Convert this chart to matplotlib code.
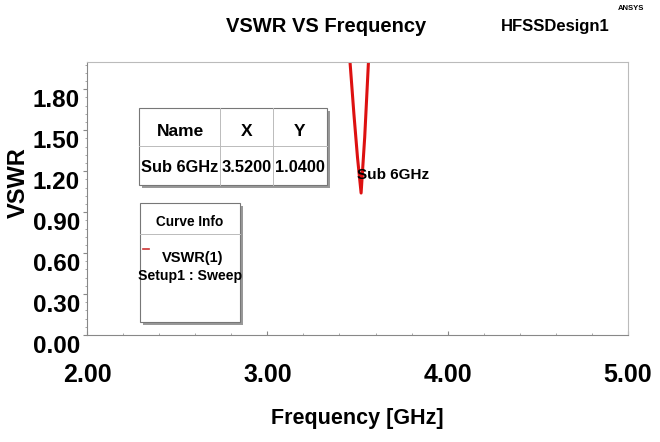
import numpy as np
import matplotlib.pyplot as plt
from matplotlib.patches import Rectangle

# dados
freq = [3.40, 3.45, 3.48, 3.50, 3.52, 3.54, 3.56, 3.58, 3.62]
vswr = [2.95, 2.15, 1.62, 1.30, 1.04, 1.45, 1.98, 2.45, 3.10]
marker_name = "Sub 6GHz"
marker_x = 3.52
marker_y = 1.04
xticks = [2.0, 3.0, 4.0, 5.0]
yticks = [0.0, 0.3, 0.6, 0.9, 1.2, 1.5, 1.8]

plt.rcParams['font.family'] = ['Liberation Sans', 'DejaVu Sans']
plt.rcParams['font.weight'] = 'bold'

W, H = 660, 442
fig = plt.figure(figsize=(W / 100, H / 100), dpi=100)
ax = fig.add_axes([87 / W, 1 - 335 / H, 541 / W, 273 / H])

ax.plot(freq, vswr, color='#dd1111', lw=2.2, clip_on=True)
ax.set_xlim(2.0, 5.0)
ax.set_ylim(0.0, 2.0)
ax.set_xticks(xticks)
ax.set_xticklabels([f"{t:.2f}" for t in xticks], fontsize=18, fontweight='bold')
ax.set_yticks(yticks)
ax.set_yticklabels([f"{t:.2f}" for t in yticks], fontsize=17.5, fontweight='bold')
ax.set_xticks(np.arange(2.0, 5.01, 0.2), minor=True)
ax.set_yticks(np.arange(0.0, 2.0, 0.06), minor=True)
ax.tick_params(axis='both', which='major', length=3, color='#888888')
ax.tick_params(axis='both', which='minor', length=1.5, color='#999999')
ax.tick_params(axis='x', which='both', direction='in')
ax.tick_params(axis='x', which='major', pad=20)
ax.tick_params(axis='y', which='major', pad=2)
for lab in ax.get_yticklabels():
    lab.set_va('top')
for s in ['top', 'right']:
    ax.spines[s].set_color('#bbbbbb')
for s in ['left', 'bottom']:
    ax.spines[s].set_color('#888888')

ax.set_xlabel("Frequency [GHz]", fontsize=15.5, fontweight='bold')
ax.xaxis.set_label_coords(0.5, -(408 - 335) / 273)
ax.set_ylabel("VSWR", fontsize=17, fontweight='bold')
ax.yaxis.set_label_coords(-(87 - 30) / 541, (335 - 183) / 273)

fig.text(326 / W, 1 - 26 / H, "VSWR VS Frequency", fontsize=14.5, fontweight='bold',
         ha='center', va='center')
fig.text(555 / W, 1 - 26 / H, "HFSSDesign1", fontsize=12, fontweight='bold',
         ha='center', va='center')
fig.text(631 / W, 1 - 9 / H, "ANSYS", fontsize=5.5, fontweight='bold',
         ha='center', va='center')

# etiqueta do marcador
ax.text(marker_x - 0.02, marker_y + 0.13, marker_name, fontsize=11, fontweight='bold',
        ha='left', va='center')


def box(x0, y0, w, h):
    # sombra + caixa em pixels
    fig.patches.append(Rectangle(((x0 + 3) / W, 1 - (y0 + h + 3) / H), w / W, h / H,
                                 transform=fig.transFigure, facecolor='#999999',
                                 edgecolor='none', zorder=5))
    fig.patches.append(Rectangle((x0 / W, 1 - (y0 + h) / H), w / W, h / H,
                                 transform=fig.transFigure, facecolor='white',
                                 edgecolor='#777777', lw=0.8, zorder=6))


def line(x0, y0, x1, y1):
    fig.add_artist(plt.Line2D([x0 / W, x1 / W], [1 - y0 / H, 1 - y1 / H],
                              transform=fig.transFigure, color='#bbbbbb', lw=0.7, zorder=7))


# tabela do marcador
box(139, 108, 188, 77)
line(139, 146, 327, 146)
line(220, 108, 220, 185)
line(273, 108, 273, 185)
cols = [(180, "Name", marker_name), (247, "X", f"{marker_x:.4f}"), (300, "Y", f"{marker_y:.4f}")]
for cx, head, val in cols:
    fig.text(cx / W, 1 - 132 / H, head, fontsize=12.5, fontweight='bold', ha='center',
             va='center', zorder=8)
    fig.text(cx / W, 1 - 167 / H, val, fontsize=11.8, fontweight='bold', ha='center',
             va='center', zorder=8)

# caixa Curve Info
box(140, 203, 100, 119)
line(140, 234, 240, 234)
fig.text(190 / W, 1 - 222 / H, "Curve Info", fontsize=9.8, fontweight='bold',
         ha='center', va='center', zorder=8)
line_leg = plt.Line2D([143 / W, 149 / W], [1 - 249 / H, 1 - 249 / H],
                      transform=fig.transFigure, color='#cc3333', lw=1.2, zorder=8)
fig.add_artist(line_leg)
fig.text(193 / W, 1 - 258 / H, "VSWR(1)", fontsize=10.5, fontweight='bold',
         ha='center', va='center', zorder=8)
fig.text(190 / W, 1 - 276 / H, "Setup1 : Sweep", fontsize=10.2, fontweight='bold',
         ha='center', va='center', zorder=8)

fig.savefig("out.png", dpi=100)
